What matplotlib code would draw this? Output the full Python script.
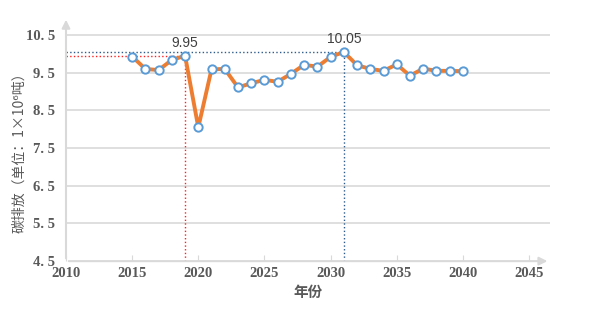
import matplotlib.pyplot as plt

plt.rcParams['font.family'] = ['Noto Sans CJK SC', 'DejaVu Sans']

# data
years = list(range(2015, 2041))
emissions = [9.93, 9.60, 9.57, 9.84, 9.95, 8.05, 9.59, 9.60, 9.11, 9.22,
             9.31, 9.26, 9.47, 9.71, 9.66, 9.92, 10.05, 9.70, 9.60, 9.55,
             9.72, 9.42, 9.61, 9.55, 9.55, 9.54]
y_ticks = [4.5, 5.5, 6.5, 7.5, 8.5, 9.5, 10.5]
y_labels = ['4. 5', '5. 5', '6. 5', '7. 5', '8. 5', '9. 5', '10. 5']
x_ticks = [2010, 2015, 2020, 2025, 2030, 2035, 2040, 2045]
marks = [(2019, 9.95, '9.95', '#FF2020'), (2031, 10.05, '10.05', '#2E5C8A')]

axis_grey = '#D9D9D9'
label_grey = '#595959'

fig = plt.figure(figsize=(6, 3.26), dpi=100)
ax = fig.add_axes([0.11, 0.199, 0.807, 0.749])
x0, x1 = 2010, 2046.6
y0, y1 = 4.5, 10.98
ax.set_xlim(x0, x1)
ax.set_ylim(y0, y1)

for s in ax.spines.values():
    s.set_visible(False)

for v in y_ticks[1:]:
    ax.axhline(v, color=axis_grey, lw=1.2, zorder=0)

# axes drawn as arrows
ax.annotate('', xy=(x1, y0), xytext=(x0, y0),
            arrowprops=dict(arrowstyle='-|>', color=axis_grey, lw=1.5, mutation_scale=12),
            annotation_clip=False)
ax.annotate('', xy=(x0, y1), xytext=(x0, y0),
            arrowprops=dict(arrowstyle='-|>', color=axis_grey, lw=1.5, mutation_scale=12),
            annotation_clip=False)

# guide lines to the two labelled points
for yr, val, txt, col in marks:
    ax.plot([x0, yr], [val, val], ls=':', color=col, lw=1, zorder=2)
    ax.plot([yr, yr], [y0, val], ls=':', color=col, lw=1, zorder=2)
    ax.text(yr, val + 0.15, txt, ha='center', va='bottom', fontsize=10,
            family='Liberation Sans', color='#404040')

ax.plot(years, emissions, color='#ED7D31', lw=2.8, marker='o', ms=6,
        mfc='white', mec='#5B9BD5', mew=1.4, zorder=3)

ax.set_xticks(x_ticks)
ax.set_yticks(y_ticks)
ax.set_xticklabels([str(x) for x in x_ticks], family='Liberation Serif',
                   fontweight='bold', fontsize=10.5, color=label_grey)
ax.set_yticklabels(y_labels, family='Liberation Serif',
                   fontweight='bold', fontsize=10.5, color=label_grey)
ax.tick_params(axis='x', direction='in', length=4, color=axis_grey, pad=4)
ax.tick_params(axis='y', length=0, pad=8)

ax.set_xlabel('年份', fontsize=10.5, fontweight='bold', color=label_grey, labelpad=3)
ax.set_ylabel('碳排放（单位：1×10⁶吨）', fontsize=10, color=label_grey)
ax.yaxis.set_label_coords(-0.083, 0.46)

fig.savefig('out.png', dpi=100)
